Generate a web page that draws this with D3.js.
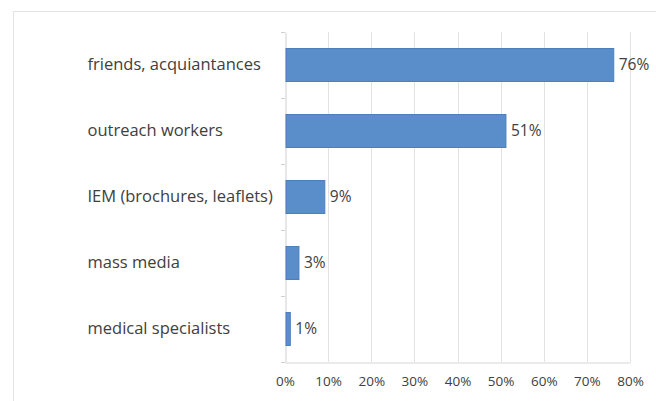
<!DOCTYPE html>
<html>
<head>
<meta charset="utf-8">
<script src="https://cdn.jsdelivr.net/npm/d3@7"></script>
<style>
  html, body { margin: 0; padding: 0; background: #fff; }
  svg { display: block; }
  text { font-family: "Open Sans", "Liberation Sans", sans-serif; fill: #404040; }
</style>
</head>
<body>
<svg id="chart" width="656" height="401"></svg>
<script>
// Sources of information, share of respondents
const categories = ["friends, acquiantances", "outreach workers", "IEM (brochures, leaflets)", "mass media", "medical specialists"];
const values = [76, 51, 9, 3, 1];
const tickValues = [0, 10, 20, 30, 40, 50, 60, 70, 80];

const W = 656, H = 401;
const margin = { left: 285, right: 26, top: 32, bottom: 39 };
const labelX = 87;

const svg = d3.select("#chart");

// chart frame
svg.append("rect")
  .attr("x", 13.5).attr("y", 11.5)
  .attr("width", 700).attr("height", 420)
  .attr("fill", "#fff").attr("stroke", "#e4e4e4");

const x = d3.scaleLinear().domain([0, 80]).range([margin.left, W - margin.right]);
const y = d3.scaleBand().domain(categories).range([margin.top, H - margin.bottom]).paddingInner(0.5).paddingOuter(0.25);

// vertical gridlines
svg.append("g").selectAll("line")
  .data(tickValues.slice(1))
  .join("line")
  .attr("x1", d => Math.round(x(d)) + 0.5).attr("x2", d => Math.round(x(d)) + 0.5)
  .attr("y1", margin.top).attr("y2", H - margin.bottom)
  .attr("stroke", "#e3e3e3");

// bottom axis
const xAxis = svg.append("g")
  .attr("transform", `translate(0,${H - margin.bottom + 0.5})`)
  .call(d3.axisBottom(x).tickValues(tickValues).tickFormat(d => d + "%").tickSize(0).tickPadding(14));
xAxis.select(".domain").attr("stroke", "#d6d6d6");
xAxis.selectAll("text").style("font-size", "13.5px").attr("fill", "#555").style("font-family", "\"Open Sans\", sans-serif");

// left axis; category labels are set flush left
const yAxis = svg.append("g")
  .attr("transform", `translate(${margin.left + 0.5},0)`)
  .call(d3.axisLeft(y).tickSize(0).tickPadding(0));
yAxis.select(".domain").attr("stroke", "#d0d0d0");
yAxis.selectAll("text")
  .attr("x", labelX - margin.left)
  .attr("text-anchor", "start")
  .style("font-size", "16.5px")
  .attr("fill", "#4a4a4a")
  .style("font-family", "\"Open Sans\", sans-serif");

// small tick marks between categories
const bounds = d3.range(categories.length + 1).map(i => margin.top + i * y.step());
svg.append("g").selectAll("line")
  .data(bounds)
  .join("line")
  .attr("x1", margin.left - 4).attr("x2", margin.left)
  .attr("y1", d => Math.round(d) + 0.5).attr("y2", d => Math.round(d) + 0.5)
  .attr("stroke", "#d0d0d0");

// bars
svg.append("g").selectAll("rect")
  .data(values)
  .join("rect")
  .attr("x", x(0) + 1)
  .attr("y", (d, i) => y(categories[i]))
  .attr("width", d => x(d) - x(0))
  .attr("height", y.bandwidth())
  .attr("fill", "#5a8ecb")
  .attr("stroke", "#4d7fbb")
  .attr("stroke-width", 1);

// value labels
svg.append("g").selectAll("text")
  .data(values)
  .join("text")
  .attr("x", d => x(d) + 6)
  .attr("y", (d, i) => y(categories[i]) + y.bandwidth() / 2)
  .attr("dy", "0.35em")
  .style("font-size", "15.5px")
  .attr("fill", "#4a4a4a")
  .text(d => d + "%");
</script>
</body>
</html>
